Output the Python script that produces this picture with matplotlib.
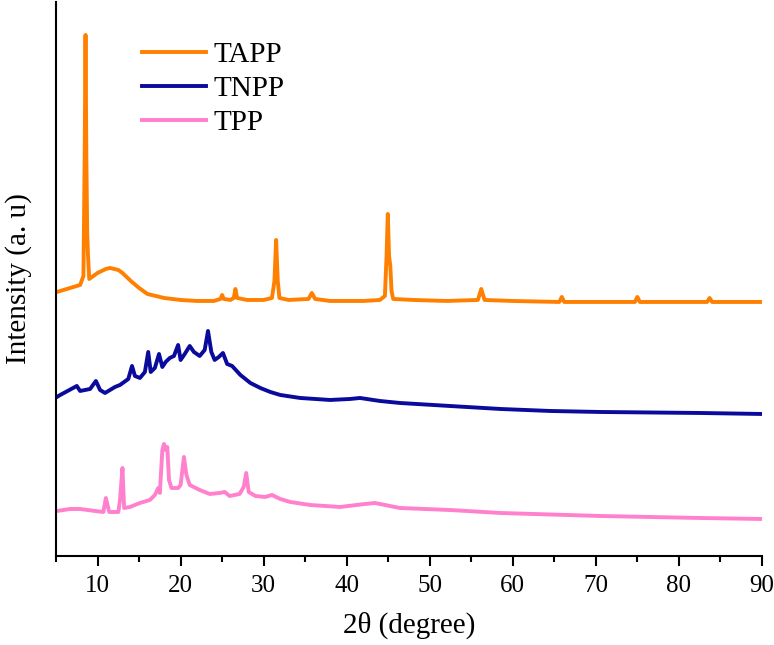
import matplotlib.pyplot as plt

plt.rcParams['font.family'] = ['Liberation Serif', 'DejaVu Serif']

# Datos (2θ en grados, intensidad en unidades arbitrarias)
tapp_x = [5.1, 6.7, 7.9, 8.3, 8.45, 8.55, 8.65, 8.75, 8.85, 9.0, 9.5, 10.0, 10.5,
          11.0, 11.5, 12.0, 12.5, 13.0, 13.5, 14.0, 15.0, 16.0, 17.0, 18.0, 20.0,
          22.0, 24.0, 24.8, 25.0, 25.2, 26.0, 26.4, 26.6, 26.8, 28.0, 30.0, 31.0,
          31.3, 31.5, 31.7, 31.9, 33.0, 35.4, 35.8, 36.2, 38.0, 40.0, 42.0, 44.0,
          44.6, 44.8, 44.95, 45.1, 45.25, 45.4, 45.6, 48.0, 52.0, 55.8, 56.2, 56.6,
          60.0, 65.6, 65.9, 66.2, 70.0, 74.7, 75.0, 75.3, 80.0, 83.4, 83.7, 84.0, 90.0]
tapp_y = [264, 268, 271, 280, 400, 521, 400, 324, 300, 277, 280, 283, 285,
          287, 288, 287, 286, 283, 279, 275, 268, 262, 260, 258, 256,
          255, 255, 257, 261, 257, 256, 258, 267, 258, 256, 256, 258,
          275, 316, 275, 258, 256, 257, 263, 257, 255, 255, 255, 256,
          260, 300, 342, 300, 290, 265, 257, 256, 255, 256, 267, 256,
          255, 254, 259, 254, 254, 254, 259, 254, 254, 254, 258, 254, 254]

tnpp_x = [5.1, 5.5, 7.5, 7.9, 9.1, 9.8, 10.3, 10.9, 12.1, 12.7, 13.7, 14.15, 14.5,
          15.1, 15.7, 16.1, 16.4, 16.9, 17.4, 17.8, 18.2, 18.7, 19.2, 19.7, 20.0,
          20.5, 21.1, 21.6, 22.3, 22.9, 23.3, 23.7, 24.1, 24.6, 25.1, 25.6, 26.2,
          27.2, 28.4, 29.6, 30.8, 32.0, 34.4, 38.0, 40.4, 41.6, 44.0, 46.4, 52.4,
          58.5, 64.5, 70.5, 82.5, 90.0]
tnpp_y = [159, 161, 170, 165, 167, 175, 166, 163, 169, 171, 177, 190, 180,
          178, 184, 204, 184, 188, 202, 189, 194, 198, 200, 211, 196,
          202, 210, 204, 200, 206, 225, 204, 196, 199, 203, 192, 190,
          181, 173, 168, 164, 161, 158, 156, 157, 158, 155, 153, 150,
          147, 145, 144, 143, 142]

tpp_x = [5.1, 6.7, 7.9, 9.7, 10.7, 11.0, 11.4, 12.5, 12.7, 13.0, 13.2, 13.9, 15.1,
         16.3, 16.9, 17.3, 17.5, 17.8, 18.0, 18.2, 18.4, 18.6, 18.9, 19.7, 20.0,
         20.4, 20.7, 21.1, 22.3, 23.5, 24.7, 25.3, 25.9, 27.1, 27.6, 27.9, 28.2,
         29.0, 30.2, 31.0, 32.0, 33.2, 35.6, 39.2, 42.2, 43.4, 44.6, 46.4, 52.4,
         58.5, 70.5, 82.5, 90.0]
tpp_y = [45, 47, 47, 45, 44, 58, 44, 44, 56, 88, 48, 49, 53,
         56, 61, 68, 63, 106, 112, 106, 109, 76, 68, 68, 71,
         99, 81, 71, 66, 62, 63, 64, 60, 62, 69, 83, 64,
         60, 59, 61, 57, 54, 51, 49, 52, 53, 51, 48, 46,
         43, 40, 38, 37]

fig = plt.figure(figsize=(7.74, 6.45), dpi=100)
ax = fig.add_axes([0.0724, 0.138, 0.912, 0.859])

ax.plot(tapp_x, tapp_y, color='#FF8000', lw=2.8, label='TAPP')
ax.plot(tnpp_x, tnpp_y, color='#0A0A9C', lw=2.8, label='TNPP')
ax.plot(tpp_x, tpp_y, color='#FF80CC', lw=2.8, label='TPP')

ax.set_xlim(5, 90)
ax.set_ylim(0, 554)
ax.set_xticks(range(10, 91, 10))
ax.set_xticks(range(5, 91, 10), minor=True)
ax.set_yticks([])
ax.tick_params(axis='x', which='major', direction='out', length=7, width=1.5,
               labelsize=18, pad=7)
ax.tick_params(axis='x', which='minor', direction='out', length=4, width=1.5)
for side in ['top', 'right']:
    ax.spines[side].set_visible(False)
for side in ['left', 'bottom']:
    ax.spines[side].set_linewidth(1.5)

ax.set_xlabel('2θ (degree)', fontsize=21, labelpad=10)
ax.set_ylabel('Intensity (a. u)', fontsize=21, labelpad=17)

ax.legend(loc='upper left', bbox_to_anchor=(0.085, 0.975), frameon=False,
          fontsize=21, handlelength=2.2, handletextpad=0.25, labelspacing=0.25)

fig.savefig('out.png', dpi=100)
